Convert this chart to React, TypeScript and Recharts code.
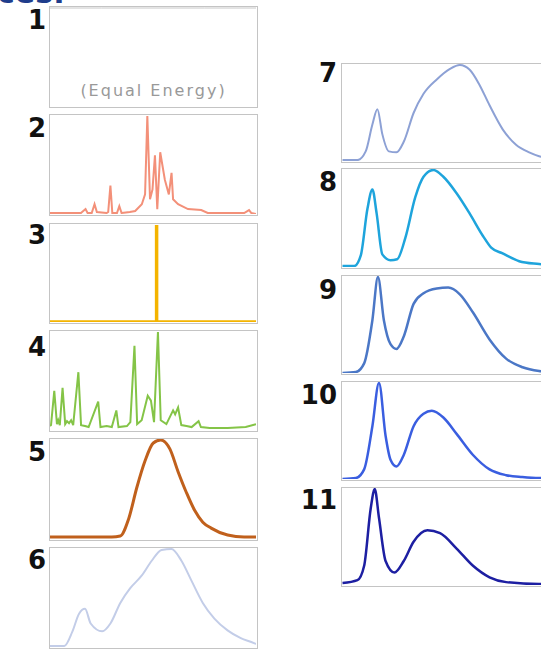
import React from 'react';
import { LineChart, Line, XAxis, YAxis } from 'recharts';

// spectral power distributions, [wavelength nm, relative power]
const spd1: [number, number][] = [[380, 1], [480, 1], [580, 1], [680, 1], [780, 1]];

const spd2: [number, number][] = [
    [380, 0.01], [440, 0.01], [449, 0.05], [453, 0.01], [461, 0.01], [466.5, 0.1], [471, 0.02],
    [490, 0.01], [493, 0.02], [497.3, 0.29], [501, 0.01], [510, 0.01], [514.6, 0.08], [519, 0.01],
    [535, 0.02], [545.4, 0.03], [558.3, 0.1], [564.6, 0.2], [569, 1.0], [574.2, 0.15], [579, 0.25],
    [583.8, 0.6], [588.3, 0.05], [594, 0.63], [603, 0.35], [610.8, 0.2], [616, 0.42], [619, 0.15],
    [628.7, 0.1], [647.9, 0.05], [673.6, 0.04], [686.3, 0.01], [757, 0.01], [766.5, 0.04], [771, 0.01], [780, 0.0],
];

const spd3: [number, number][] = [[380, 0], [587, 0], [587, 1], [587, 0], [780, 0]];

const spd4: [number, number][] = [
    [380, 0.04], [382, 0.05], [388.3, 0.4], [393.5, 0.06], [396, 0.1], [399, 0.05], [404.4, 0.43], [409.5, 0.06],
    [413, 0.09], [417, 0.07], [421, 0.1], [425, 0.05], [435.1, 0.59], [440.3, 0.05], [448, 0.04], [455, 0.03],
    [473.6, 0.29], [478, 0.03], [490, 0.04], [500, 0.03], [508.8, 0.2], [513, 0.03], [529.4, 0.04], [536, 0.08],
    [544, 0.86], [549.2, 0.06], [558, 0.1], [569.8, 0.35], [576, 0.3], [582, 0.08], [589.6, 1.0], [595, 0.1],
    [606, 0.06], [619, 0.2], [623, 0.16], [628.7, 0.23], [635, 0.05], [645, 0.04], [655, 0.03], [668.5, 0.09],
    [673, 0.03], [690, 0.02], [725, 0.02], [760, 0.03], [780, 0.06],
];

const spd5: [number, number][] = [
    [380, 0.02], [450, 0.02], [500, 0.02], [516.5, 0.03], [532.5, 0.2], [548.6, 0.52], [564.6, 0.79],
    [580.6, 0.97], [595, 1.0], [612.7, 0.91], [628.7, 0.68], [644.8, 0.47], [660.8, 0.29], [676.7, 0.17],
    [692.9, 0.11], [724.9, 0.04], [756.9, 0.02], [780, 0.02],
];

const spd6: [number, number][] = [
    [380, 0.01], [407.5, 0.01], [423.6, 0.16], [436.4, 0.34], [448, 0.39], [459, 0.24], [481.3, 0.16],
    [497.3, 0.24], [516.5, 0.45], [535.8, 0.6], [558.3, 0.73], [577.5, 0.88], [596.7, 0.99], [615.9, 1.0],
    [635.2, 0.88], [654.4, 0.68], [676.7, 0.45], [699.2, 0.29], [724.8, 0.17], [750.5, 0.09], [776, 0.04], [780, 0.03],
];

const spd7: [number, number][] = [
    [381, 0.01], [410, 0.01], [426, 0.1], [439, 0.38], [448.7, 0.54], [458.3, 0.28], [471, 0.1],
    [485.8, 0.09], [499.9, 0.2], [519, 0.5], [538.3, 0.7], [564, 0.85], [589.6, 0.96], [608.8, 1.0],
    [628, 0.95], [647.3, 0.79], [666.5, 0.58], [692, 0.33], [717.9, 0.17], [743.5, 0.09], [762.7, 0.05], [780, 0.03],
];

const spd8: [number, number][] = [
    [381, 0.01], [403.7, 0.01], [416.5, 0.12], [429.4, 0.6], [439, 0.8], [447.3, 0.55], [458.3, 0.13],
    [474.2, 0.07], [487, 0.08], [503, 0.3], [522.3, 0.72], [538.3, 0.93], [557.5, 1.0], [576.8, 0.93],
    [602.5, 0.76], [628, 0.55], [653.7, 0.32], [669.7, 0.2], [692, 0.14], [724, 0.06], [762.7, 0.03], [780, 0.02],
];

const spd9: [number, number][] = [
    [381, 0.0], [407, 0.01], [423, 0.1], [439, 0.55], [449.8, 1.0], [461.3, 0.55], [474.2, 0.3],
    [485.8, 0.25], [499.9, 0.38], [519, 0.72], [538.3, 0.83], [564, 0.88], [586.3, 0.89], [608.8, 0.82],
    [634.4, 0.63], [666.5, 0.35], [698.7, 0.15], [730.6, 0.06], [762.7, 0.02], [780, 0.01],
];

const spd10: [number, number][] = [
    [381, 0.0], [407, 0.01], [423, 0.1], [439, 0.55], [451.8, 1.0], [464.6, 0.45], [474.2, 0.2],
    [485.8, 0.13], [499.9, 0.25], [519, 0.55], [538.3, 0.68], [554.4, 0.71], [576.8, 0.64], [602.5, 0.47],
    [634.4, 0.25], [666.5, 0.1], [698.7, 0.04], [730, 0.02], [762.7, 0.01], [780, 0.01],
];

const spd11: [number, number][] = [
    [381, 0.02], [410, 0.05], [423, 0.2], [435.8, 0.8], [443.5, 1.0], [451.8, 0.7], [464.6, 0.25],
    [481.9, 0.13], [499.9, 0.25], [519, 0.45], [545.8, 0.57], [570.4, 0.54], [602.5, 0.38], [634.4, 0.2],
    [666.5, 0.08], [698.7, 0.03], [762.7, 0.01], [780, 0.01],
];

type Panel = {
    label: string; spd: [number, number][]; color: string; width: number; curve: 'linear' | 'monotone';
    x: number; y: number; h: number; labelX: number; labelY: number;
};

// labelY = top of the digit glyphs
const PANELS: Panel[] = [
    { label: '1', spd: spd1, color: '#c8c8c8', width: 1, curve: 'linear', x: 49, y: 6, h: 102, labelX: 46, labelY: 10 },
    { label: '2', spd: spd2, color: '#f39079', width: 2, curve: 'linear', x: 49, y: 114, h: 102, labelX: 46, labelY: 118 },
    { label: '3', spd: spd3, color: '#f4b400', width: 3.5, curve: 'linear', x: 49, y: 223, h: 101, labelX: 46, labelY: 225 },
    { label: '4', spd: spd4, color: '#84c447', width: 2, curve: 'linear', x: 49, y: 330, h: 102, labelX: 46, labelY: 337 },
    { label: '5', spd: spd5, color: '#c0601c', width: 3, curve: 'monotone', x: 49, y: 438, h: 103, labelX: 46, labelY: 442 },
    { label: '6', spd: spd6, color: '#c3cde8', width: 2, curve: 'monotone', x: 49, y: 547, h: 102, labelX: 46, labelY: 550 },
    { label: '7', spd: spd7, color: '#8da1d5', width: 2, curve: 'monotone', x: 341, y: 63, h: 100, labelX: 337, labelY: 63 },
    { label: '8', spd: spd8, color: '#1ea4dc', width: 2.5, curve: 'monotone', x: 341, y: 168, h: 101, labelX: 337, labelY: 172 },
    { label: '9', spd: spd9, color: '#4b77c6', width: 2.5, curve: 'monotone', x: 341, y: 275, h: 100, labelX: 337, labelY: 280 },
    { label: '10', spd: spd10, color: '#3a5ee0', width: 2.5, curve: 'monotone', x: 341, y: 381, h: 100, labelX: 337, labelY: 385 },
    { label: '11', spd: spd11, color: '#1d1fa2', width: 2.5, curve: 'monotone', x: 341, y: 487, h: 100, labelX: 337, labelY: 490 },
];

const PANEL_W = 209;

function SpdPanel({ p }: { p: Panel }) {
    const data = p.spd.map(([nm, v]) => ({ nm, v }));
    return (
        <>
            <div style={{
                position: 'absolute', left: p.labelX - 60, top: p.labelY + 1, width: 60, textAlign: 'right',
                font: 'bold 26px "DejaVu Sans"', lineHeight: '18px', color: '#111',
            }}>{p.label}</div>
            <div style={{
                position: 'absolute', left: p.x, top: p.y, width: PANEL_W, height: p.h,
                boxSizing: 'border-box', border: '1.5px solid #c4c4c4', background: '#fff',
            }}>
                <LineChart width={PANEL_W - 3} height={p.h - 3} data={data}
                    margin={{ top: 1, right: 0, bottom: 0, left: 0 }}>
                    <XAxis dataKey="nm" type="number" domain={[380, 780]} hide />
                    <YAxis type="number" domain={[0, 1]} hide width={0} />
                    <Line type={p.curve} dataKey="v" stroke={p.color} strokeWidth={p.width}
                        dot={false} activeDot={false} isAnimationActive={false} />
                </LineChart>
                {p.label === '1' && (
                    <div style={{
                        position: 'absolute', left: 0, right: 0, top: 74, textAlign: 'center',
                        font: '16px "DejaVu Sans"', letterSpacing: 2, color: '#999',
                    }}>(Equal Energy)</div>
                )}
            </div>
        </>
    );
}

export default function App() {
    return (
        <div style={{
            position: 'fixed', left: 0, top: 0, width: 541, height: 651, overflow: 'hidden', background: '#fff',
        }}>
            {/* heading of the slide, only its lower edge shows */}
            <div style={{ position: 'absolute', left: 0, top: 0, width: 80, height: 5, overflow: 'hidden' }}>
                <div style={{
                    position: 'absolute', left: -3, top: -19, font: 'bold 30px "DejaVu Sans"', lineHeight: '23px',
                    color: '#1f3d8c', whiteSpace: 'nowrap',
                }}>ces:</div>
            </div>
            {PANELS.map(p => <SpdPanel key={p.label} p={p} />)}
        </div>
    );
}
